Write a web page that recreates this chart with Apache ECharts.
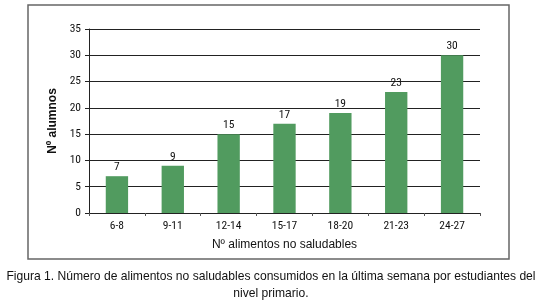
<!DOCTYPE html>
<html><head><meta charset="utf-8">
<script src="https://cdn.jsdelivr.net/npm/echarts@6/dist/echarts.min.js"></script>
<style>html,body{margin:0;padding:0;background:#fff}#c{width:542px;height:306px}</style>
</head><body><div id="c"></div>
<script>
const categories = ["6-8","9-11","12-14","15-17","18-20","21-23","24-27"];
const values = [7,9,15,17,19,23,30];
const yTicks = [0,5,10,15,20,25,30,35];
const xName = "Nº alimentos no saludables";
const yName = "Nº alumnos";
const caption = "Figura 1. Número de alimentos no saludables consumidos en la última semana por estudiantes del\nnivel primario.";

const chart = echarts.init(document.getElementById('c'));
const axisFont = '"Liberation Sans Narrow","Roboto Condensed",Arial,sans-serif';
chart.setOption({
  animation:false,
  grid:{left:89,right:62,top:29,bottom:93},
  xAxis:{type:'category',data:categories,
    name:xName,nameLocation:'middle',nameGap:26,
    nameTextStyle:{color:'#111',fontSize:12,fontFamily:'Liberation Sans, Arial'},
    axisLine:{lineStyle:{color:'#222',width:1}},
    axisTick:{show:true,length:3,lineStyle:{color:'#555'}},
    axisLabel:{color:'#111',fontSize:11.5,fontFamily:axisFont,margin:7}},
  yAxis:{type:'value',min:0,max:35,interval:5,
    name:yName,nameLocation:'middle',nameGap:29,nameRotate:90,
    nameTextStyle:{color:'#111',fontSize:12,fontFamily:'Liberation Sans, Arial',fontWeight:'bold'},
    axisLine:{show:true,lineStyle:{color:'#222',width:1}},
    axisTick:{show:true,length:4,lineStyle:{color:'#222'}},
    axisLabel:{color:'#111',fontSize:11.5,fontFamily:axisFont,margin:8,
      formatter:v=>yTicks.includes(v)?String(v):''},
    splitLine:{lineStyle:{color:'#222',width:1}}},
  series:[{type:'bar',data:values,barWidth:'40%',
    itemStyle:{color:'#519b5f'},
    label:{show:true,position:'top',color:'#111',fontSize:11.5,fontFamily:axisFont,distance:3}}],
  graphic:[
    {type:'rect',shape:{x:28,y:5,width:481,height:254},style:{fill:'none',stroke:'#666',lineWidth:1.5},silent:true},
    {type:'text',x:271,y:268,style:{text:caption,textAlign:'center',fill:'#111',fontSize:12.1,lineHeight:17,fontFamily:'Liberation Sans, Arial, sans-serif'}}
  ]
});
</script></body></html>
